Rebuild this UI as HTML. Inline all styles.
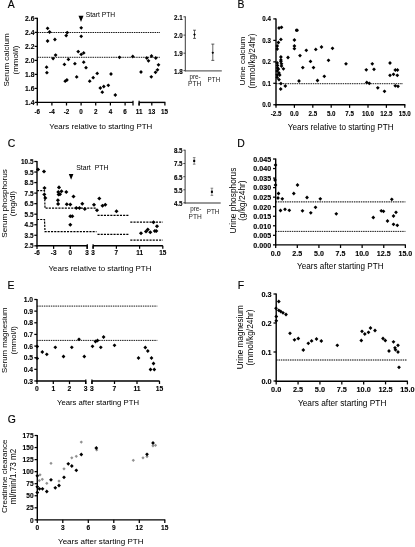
<!DOCTYPE html>
<html><head><meta charset="utf-8"><title>Figure</title>
<style>html,body{margin:0;padding:0;background:#fff;}body{width:415px;height:547px;overflow:hidden;font-family:"Liberation Sans",sans-serif;}svg{display:block;}</style>
</head><body>
<svg width="415" height="547" viewBox="0 0 415 547">
<rect width="415" height="547" fill="#fff"/>
<defs><filter id="sf" x="0" y="0" width="415" height="547" filterUnits="userSpaceOnUse"><feGaussianBlur stdDeviation="0.35"/></filter></defs>
<g filter="url(#sf)">
<text x="7.70" y="8.20" font-family="Liberation Sans, sans-serif" font-size="10.4" text-anchor="start" fill="#000" stroke="#000" stroke-width="0.15">A</text>
<text x="237.50" y="8.20" font-family="Liberation Sans, sans-serif" font-size="10.4" text-anchor="start" fill="#000" stroke="#000" stroke-width="0.15">B</text>
<text x="7.80" y="146.50" font-family="Liberation Sans, sans-serif" font-size="10.4" text-anchor="start" fill="#000" stroke="#000" stroke-width="0.15">C</text>
<text x="237.30" y="146.50" font-family="Liberation Sans, sans-serif" font-size="10.4" text-anchor="start" fill="#000" stroke="#000" stroke-width="0.15">D</text>
<text x="7.40" y="289.20" font-family="Liberation Sans, sans-serif" font-size="10.4" text-anchor="start" fill="#000" stroke="#000" stroke-width="0.15">E</text>
<text x="237.70" y="289.00" font-family="Liberation Sans, sans-serif" font-size="10.4" text-anchor="start" fill="#000" stroke="#000" stroke-width="0.15">F</text>
<text x="7.80" y="422.60" font-family="Liberation Sans, sans-serif" font-size="10.4" text-anchor="start" fill="#000" stroke="#000" stroke-width="0.15">G</text>
<line x1="37.30" y1="17.80" x2="37.30" y2="103.10" stroke="#000" stroke-width="1.4" stroke-linecap="butt"/>
<line x1="36.60" y1="102.40" x2="133.00" y2="102.40" stroke="#000" stroke-width="1.4" stroke-linecap="butt"/>
<line x1="139.00" y1="102.40" x2="165.40" y2="102.40" stroke="#000" stroke-width="1.4" stroke-linecap="butt"/>
<line x1="34.60" y1="18.30" x2="37.30" y2="18.30" stroke="#000" stroke-width="1.25" stroke-linecap="butt"/>
<text x="34.40" y="21.01" font-family="Liberation Sans, sans-serif" font-size="7.236" text-anchor="end" font-weight="bold" stroke="#000" stroke-width="0.12" fill="#000" transform="translate(34.40 21.01) scale(0.9259 1) translate(-34.40 -21.01)">2.6</text>
<line x1="34.60" y1="32.40" x2="37.30" y2="32.40" stroke="#000" stroke-width="1.25" stroke-linecap="butt"/>
<text x="34.40" y="35.11" font-family="Liberation Sans, sans-serif" font-size="7.236" text-anchor="end" font-weight="bold" stroke="#000" stroke-width="0.12" fill="#000" transform="translate(34.40 35.11) scale(0.9259 1) translate(-34.40 -35.11)">2.4</text>
<line x1="34.60" y1="46.40" x2="37.30" y2="46.40" stroke="#000" stroke-width="1.25" stroke-linecap="butt"/>
<text x="34.40" y="49.11" font-family="Liberation Sans, sans-serif" font-size="7.236" text-anchor="end" font-weight="bold" stroke="#000" stroke-width="0.12" fill="#000" transform="translate(34.40 49.11) scale(0.9259 1) translate(-34.40 -49.11)">2.2</text>
<line x1="34.60" y1="60.40" x2="37.30" y2="60.40" stroke="#000" stroke-width="1.25" stroke-linecap="butt"/>
<text x="34.40" y="63.11" font-family="Liberation Sans, sans-serif" font-size="7.236" text-anchor="end" font-weight="bold" stroke="#000" stroke-width="0.12" fill="#000" transform="translate(34.40 63.11) scale(0.9259 1) translate(-34.40 -63.11)">2.0</text>
<line x1="34.60" y1="74.40" x2="37.30" y2="74.40" stroke="#000" stroke-width="1.25" stroke-linecap="butt"/>
<text x="34.40" y="77.11" font-family="Liberation Sans, sans-serif" font-size="7.236" text-anchor="end" font-weight="bold" stroke="#000" stroke-width="0.12" fill="#000" transform="translate(34.40 77.11) scale(0.9259 1) translate(-34.40 -77.11)">1.8</text>
<line x1="34.60" y1="88.40" x2="37.30" y2="88.40" stroke="#000" stroke-width="1.25" stroke-linecap="butt"/>
<text x="34.40" y="91.11" font-family="Liberation Sans, sans-serif" font-size="7.236" text-anchor="end" font-weight="bold" stroke="#000" stroke-width="0.12" fill="#000" transform="translate(34.40 91.11) scale(0.9259 1) translate(-34.40 -91.11)">1.6</text>
<line x1="34.60" y1="102.40" x2="37.30" y2="102.40" stroke="#000" stroke-width="1.25" stroke-linecap="butt"/>
<text x="34.40" y="105.11" font-family="Liberation Sans, sans-serif" font-size="7.236" text-anchor="end" font-weight="bold" stroke="#000" stroke-width="0.12" fill="#000" transform="translate(34.40 105.11) scale(0.9259 1) translate(-34.40 -105.11)">1.4</text>
<line x1="37.30" y1="102.40" x2="37.30" y2="105.50" stroke="#000" stroke-width="1.25" stroke-linecap="butt"/>
<text x="37.30" y="114.47" font-family="Liberation Sans, sans-serif" font-size="6.804" text-anchor="middle" font-weight="bold" stroke="#000" stroke-width="0.12" fill="#000" transform="translate(37.30 114.47) scale(0.9259 1) translate(-37.30 -114.47)">-6</text>
<line x1="51.90" y1="102.40" x2="51.90" y2="105.50" stroke="#000" stroke-width="1.25" stroke-linecap="butt"/>
<text x="51.90" y="114.47" font-family="Liberation Sans, sans-serif" font-size="6.804" text-anchor="middle" font-weight="bold" stroke="#000" stroke-width="0.12" fill="#000" transform="translate(51.90 114.47) scale(0.9259 1) translate(-51.90 -114.47)">-4</text>
<line x1="66.50" y1="102.40" x2="66.50" y2="105.50" stroke="#000" stroke-width="1.25" stroke-linecap="butt"/>
<text x="66.50" y="114.47" font-family="Liberation Sans, sans-serif" font-size="6.804" text-anchor="middle" font-weight="bold" stroke="#000" stroke-width="0.12" fill="#000" transform="translate(66.50 114.47) scale(0.9259 1) translate(-66.50 -114.47)">-2</text>
<line x1="81.10" y1="102.40" x2="81.10" y2="105.50" stroke="#000" stroke-width="1.25" stroke-linecap="butt"/>
<text x="81.10" y="114.47" font-family="Liberation Sans, sans-serif" font-size="6.804" text-anchor="middle" font-weight="bold" stroke="#000" stroke-width="0.12" fill="#000" transform="translate(81.10 114.47) scale(0.9259 1) translate(-81.10 -114.47)">0</text>
<line x1="95.70" y1="102.40" x2="95.70" y2="105.50" stroke="#000" stroke-width="1.25" stroke-linecap="butt"/>
<text x="95.70" y="114.47" font-family="Liberation Sans, sans-serif" font-size="6.804" text-anchor="middle" font-weight="bold" stroke="#000" stroke-width="0.12" fill="#000" transform="translate(95.70 114.47) scale(0.9259 1) translate(-95.70 -114.47)">2</text>
<line x1="110.40" y1="102.40" x2="110.40" y2="105.50" stroke="#000" stroke-width="1.25" stroke-linecap="butt"/>
<text x="110.40" y="114.47" font-family="Liberation Sans, sans-serif" font-size="6.804" text-anchor="middle" font-weight="bold" stroke="#000" stroke-width="0.12" fill="#000" transform="translate(110.40 114.47) scale(0.9259 1) translate(-110.40 -114.47)">4</text>
<line x1="125.10" y1="102.40" x2="125.10" y2="105.50" stroke="#000" stroke-width="1.25" stroke-linecap="butt"/>
<text x="125.10" y="114.47" font-family="Liberation Sans, sans-serif" font-size="6.804" text-anchor="middle" font-weight="bold" stroke="#000" stroke-width="0.12" fill="#000" transform="translate(125.10 114.47) scale(0.9259 1) translate(-125.10 -114.47)">6</text>
<line x1="133.00" y1="100.80" x2="133.00" y2="105.40" stroke="#000" stroke-width="1.25" stroke-linecap="butt"/>
<line x1="139.10" y1="100.80" x2="139.10" y2="105.40" stroke="#000" stroke-width="1.25" stroke-linecap="butt"/>
<line x1="139.10" y1="102.40" x2="139.10" y2="105.40" stroke="#000" stroke-width="1.25" stroke-linecap="butt"/>
<text x="139.20" y="114.47" font-family="Liberation Sans, sans-serif" font-size="6.804" text-anchor="middle" font-weight="bold" stroke="#000" stroke-width="0.12" fill="#000" transform="translate(139.20 114.47) scale(0.9259 1) translate(-139.20 -114.47)">11</text>
<line x1="151.80" y1="102.40" x2="151.80" y2="105.40" stroke="#000" stroke-width="1.25" stroke-linecap="butt"/>
<text x="151.80" y="114.47" font-family="Liberation Sans, sans-serif" font-size="6.804" text-anchor="middle" font-weight="bold" stroke="#000" stroke-width="0.12" fill="#000" transform="translate(151.80 114.47) scale(0.9259 1) translate(-151.80 -114.47)">13</text>
<line x1="164.90" y1="102.40" x2="164.90" y2="105.40" stroke="#000" stroke-width="1.25" stroke-linecap="butt"/>
<text x="164.40" y="114.47" font-family="Liberation Sans, sans-serif" font-size="6.804" text-anchor="middle" font-weight="bold" stroke="#000" stroke-width="0.12" fill="#000" transform="translate(164.40 114.47) scale(0.9259 1) translate(-164.40 -114.47)">15</text>
<line x1="37.30" y1="32.50" x2="160.00" y2="32.50" stroke="#000" stroke-width="0.9" stroke-dasharray="1.5 0.8" stroke-linecap="butt"/>
<line x1="37.30" y1="57.30" x2="160.00" y2="57.30" stroke="#000" stroke-width="0.9" stroke-dasharray="1.5 0.8" stroke-linecap="butt"/>
<text x="8.70" y="60.00" font-family="Liberation Sans, sans-serif" font-size="8.05" text-anchor="middle" fill="#000" transform="rotate(-90 8.70 60.00)">Serum calcium</text>
<text x="17.50" y="60.00" font-family="Liberation Sans, sans-serif" font-size="8.05" text-anchor="middle" fill="#000" transform="rotate(-90 17.50 60.00)">(mmol/l)</text>
<text x="100.80" y="128.90" font-family="Liberation Sans, sans-serif" font-size="7.95" text-anchor="middle" fill="#000">Years relative to starting PTH</text>
<text x="85.80" y="16.90" font-family="Liberation Sans, sans-serif" font-size="6.7" text-anchor="start" fill="#000">Start PTH</text>
<path d="M78.5 15.8 L83.5 15.8 L81.0 22.0Z" fill="#000"/>
<path d="M47.60 26.40L49.50 28.30L47.60 30.20L45.70 28.30Z" fill="#000"/>
<path d="M49.60 30.10L51.50 32.00L49.60 33.90L47.70 32.00Z" fill="#000"/>
<path d="M47.60 39.10L49.50 41.00L47.60 42.90L45.70 41.00Z" fill="#000"/>
<path d="M54.90 37.60L56.80 39.50L54.90 41.40L53.00 39.50Z" fill="#000"/>
<path d="M53.10 56.70L55.00 58.60L53.10 60.50L51.20 58.60Z" fill="#000"/>
<path d="M55.60 53.20L57.50 55.10L55.60 57.00L53.70 55.10Z" fill="#000"/>
<path d="M46.60 65.30L48.50 67.20L46.60 69.10L44.70 67.20Z" fill="#000"/>
<path d="M46.90 70.80L48.80 72.70L46.90 74.60L45.00 72.70Z" fill="#000"/>
<path d="M67.20 30.70L69.10 32.60L67.20 34.50L65.30 32.60Z" fill="#000"/>
<path d="M66.20 33.70L68.10 35.60L66.20 37.50L64.30 35.60Z" fill="#000"/>
<path d="M64.40 62.50L66.30 64.40L64.40 66.30L62.50 64.40Z" fill="#000"/>
<path d="M68.40 57.50L70.30 59.40L68.40 61.30L66.50 59.40Z" fill="#000"/>
<path d="M65.20 79.30L67.10 81.20L65.20 83.10L63.30 81.20Z" fill="#000"/>
<path d="M66.90 78.10L68.80 80.00L66.90 81.90L65.00 80.00Z" fill="#000"/>
<path d="M74.90 61.80L76.80 63.70L74.90 65.60L73.00 63.70Z" fill="#000"/>
<path d="M76.70 75.00L78.60 76.90L76.70 78.80L74.80 76.90Z" fill="#000"/>
<path d="M78.20 49.70L80.10 51.60L78.20 53.50L76.30 51.60Z" fill="#000"/>
<path d="M81.20 25.90L83.10 27.80L81.20 29.70L79.30 27.80Z" fill="#000"/>
<path d="M81.20 34.40L83.10 36.30L81.20 38.20L79.30 36.30Z" fill="#000"/>
<path d="M81.20 52.50L83.10 54.40L81.20 56.30L79.30 54.40Z" fill="#000"/>
<path d="M83.70 51.00L85.60 52.90L83.70 54.80L81.80 52.90Z" fill="#000"/>
<path d="M83.70 60.30L85.60 62.20L83.70 64.10L81.80 62.20Z" fill="#000"/>
<path d="M86.00 65.80L87.90 67.70L86.00 69.60L84.10 67.70Z" fill="#000"/>
<path d="M89.70 79.30L91.60 81.20L89.70 83.10L87.80 81.20Z" fill="#000"/>
<path d="M93.20 75.80L95.10 77.70L93.20 79.60L91.30 77.70Z" fill="#000"/>
<path d="M97.20 71.50L99.10 73.40L97.20 75.30L95.30 73.40Z" fill="#000"/>
<path d="M100.30 86.10L102.20 88.00L100.30 89.90L98.40 88.00Z" fill="#000"/>
<path d="M102.30 90.30L104.20 92.20L102.30 94.10L100.40 92.20Z" fill="#000"/>
<path d="M103.80 84.60L105.70 86.50L103.80 88.40L101.90 86.50Z" fill="#000"/>
<path d="M108.30 83.40L110.20 85.30L108.30 87.20L106.40 85.30Z" fill="#000"/>
<path d="M111.00 72.10L112.90 74.00L111.00 75.90L109.10 74.00Z" fill="#000"/>
<path d="M115.30 93.10L117.20 95.00L115.30 96.90L113.40 95.00Z" fill="#000"/>
<path d="M119.50 55.40L121.40 57.30L119.50 59.20L117.60 57.30Z" fill="#000"/>
<path d="M132.80 54.60L134.70 56.50L132.80 58.40L130.90 56.50Z" fill="#000"/>
<path d="M141.00 70.10L142.90 72.00L141.00 73.90L139.10 72.00Z" fill="#000"/>
<path d="M146.80 56.10L148.70 58.00L146.80 59.90L144.90 58.00Z" fill="#000"/>
<path d="M148.50 58.90L150.40 60.80L148.50 62.70L146.60 60.80Z" fill="#000"/>
<path d="M151.50 54.10L153.40 56.00L151.50 57.90L149.60 56.00Z" fill="#000"/>
<path d="M155.80 56.10L157.70 58.00L155.80 59.90L153.90 58.00Z" fill="#000"/>
<path d="M151.30 74.90L153.20 76.80L151.30 78.70L149.40 76.80Z" fill="#000"/>
<path d="M155.50 70.40L157.40 72.30L155.50 74.20L153.60 72.30Z" fill="#000"/>
<path d="M157.50 67.90L159.40 69.80L157.50 71.70L155.60 69.80Z" fill="#000"/>
<path d="M158.50 62.90L160.40 64.80L158.50 66.70L156.60 64.80Z" fill="#000"/>
<line x1="185.30" y1="16.40" x2="185.30" y2="71.40" stroke="#222" stroke-width="0.9" stroke-linecap="butt"/>
<line x1="184.90" y1="70.80" x2="221.80" y2="70.80" stroke="#666" stroke-width="1.2" stroke-linecap="butt"/>
<line x1="183.50" y1="16.80" x2="185.30" y2="16.80" stroke="#222" stroke-width="0.8" stroke-linecap="butt"/>
<text x="182.70" y="19.73" font-family="Liberation Sans, sans-serif" font-size="6.696" text-anchor="end" font-weight="bold" stroke="#000" stroke-width="0.12" fill="#000" transform="translate(182.70 19.73) scale(0.9259 1) translate(-182.70 -19.73)">2.1</text>
<line x1="183.50" y1="35.10" x2="185.30" y2="35.10" stroke="#222" stroke-width="0.8" stroke-linecap="butt"/>
<text x="182.70" y="38.03" font-family="Liberation Sans, sans-serif" font-size="6.696" text-anchor="end" font-weight="bold" stroke="#000" stroke-width="0.12" fill="#000" transform="translate(182.70 38.03) scale(0.9259 1) translate(-182.70 -38.03)">2.0</text>
<line x1="183.50" y1="53.20" x2="185.30" y2="53.20" stroke="#222" stroke-width="0.8" stroke-linecap="butt"/>
<text x="182.70" y="56.13" font-family="Liberation Sans, sans-serif" font-size="6.696" text-anchor="end" font-weight="bold" stroke="#000" stroke-width="0.12" fill="#000" transform="translate(182.70 56.13) scale(0.9259 1) translate(-182.70 -56.13)">1.9</text>
<line x1="183.50" y1="70.60" x2="185.30" y2="70.60" stroke="#222" stroke-width="0.8" stroke-linecap="butt"/>
<text x="182.70" y="73.53" font-family="Liberation Sans, sans-serif" font-size="6.696" text-anchor="end" font-weight="bold" stroke="#000" stroke-width="0.12" fill="#000" transform="translate(182.70 73.53) scale(0.9259 1) translate(-182.70 -73.53)">1.8</text>
<line x1="194.50" y1="30.20" x2="194.50" y2="38.40" stroke="#222" stroke-width="0.7" stroke-linecap="butt"/>
<line x1="193.00" y1="30.20" x2="196.00" y2="30.20" stroke="#222" stroke-width="0.7" stroke-linecap="butt"/>
<line x1="193.00" y1="38.40" x2="196.00" y2="38.40" stroke="#222" stroke-width="0.7" stroke-linecap="butt"/>
<path d="M194.50 33.30L195.80 34.60L194.50 35.90L193.20 34.60Z" fill="#000"/>
<line x1="212.80" y1="44.10" x2="212.80" y2="60.40" stroke="#222" stroke-width="0.7" stroke-linecap="butt"/>
<line x1="211.30" y1="44.10" x2="214.30" y2="44.10" stroke="#222" stroke-width="0.7" stroke-linecap="butt"/>
<line x1="211.30" y1="60.40" x2="214.30" y2="60.40" stroke="#222" stroke-width="0.7" stroke-linecap="butt"/>
<path d="M212.80 51.40L214.10 52.70L212.80 54.00L211.50 52.70Z" fill="#000"/>
<text x="195.00" y="78.60" font-family="Liberation Sans, sans-serif" font-size="6.3" text-anchor="middle" fill="#222">pre-</text>
<text x="194.70" y="85.90" font-family="Liberation Sans, sans-serif" font-size="6.6" text-anchor="middle" fill="#222">PTH</text>
<text x="213.90" y="82.10" font-family="Liberation Sans, sans-serif" font-size="6.3" text-anchor="middle" fill="#222">PTH</text>
<line x1="276.00" y1="18.40" x2="276.00" y2="105.45" stroke="#000" stroke-width="1.4" stroke-linecap="butt"/>
<line x1="275.30" y1="104.75" x2="405.40" y2="104.75" stroke="#000" stroke-width="1.4" stroke-linecap="butt"/>
<line x1="273.30" y1="18.90" x2="276.00" y2="18.90" stroke="#000" stroke-width="1.25" stroke-linecap="butt"/>
<text x="270.90" y="21.43" font-family="Liberation Sans, sans-serif" font-size="6.696" text-anchor="end" font-weight="bold" stroke="#000" stroke-width="0.12" fill="#000" transform="translate(270.90 21.43) scale(0.9259 1) translate(-270.90 -21.43)">0.4</text>
<line x1="273.30" y1="40.40" x2="276.00" y2="40.40" stroke="#000" stroke-width="1.25" stroke-linecap="butt"/>
<text x="270.90" y="42.93" font-family="Liberation Sans, sans-serif" font-size="6.696" text-anchor="end" font-weight="bold" stroke="#000" stroke-width="0.12" fill="#000" transform="translate(270.90 42.93) scale(0.9259 1) translate(-270.90 -42.93)">0.3</text>
<line x1="273.30" y1="61.85" x2="276.00" y2="61.85" stroke="#000" stroke-width="1.25" stroke-linecap="butt"/>
<text x="270.90" y="64.38" font-family="Liberation Sans, sans-serif" font-size="6.696" text-anchor="end" font-weight="bold" stroke="#000" stroke-width="0.12" fill="#000" transform="translate(270.90 64.38) scale(0.9259 1) translate(-270.90 -64.38)">0.2</text>
<line x1="273.30" y1="83.30" x2="276.00" y2="83.30" stroke="#000" stroke-width="1.25" stroke-linecap="butt"/>
<text x="270.90" y="85.83" font-family="Liberation Sans, sans-serif" font-size="6.696" text-anchor="end" font-weight="bold" stroke="#000" stroke-width="0.12" fill="#000" transform="translate(270.90 85.83) scale(0.9259 1) translate(-270.90 -85.83)">0.1</text>
<line x1="273.30" y1="104.75" x2="276.00" y2="104.75" stroke="#000" stroke-width="1.25" stroke-linecap="butt"/>
<text x="270.90" y="107.28" font-family="Liberation Sans, sans-serif" font-size="6.696" text-anchor="end" font-weight="bold" stroke="#000" stroke-width="0.12" fill="#000" transform="translate(270.90 107.28) scale(0.9259 1) translate(-270.90 -107.28)">0.0</text>
<line x1="276.00" y1="104.75" x2="276.00" y2="107.85" stroke="#000" stroke-width="1.25" stroke-linecap="butt"/>
<text x="276.00" y="116.43" font-family="Liberation Sans, sans-serif" font-size="6.696" text-anchor="middle" font-weight="bold" stroke="#000" stroke-width="0.12" fill="#000" transform="translate(276.00 116.43) scale(0.9259 1) translate(-276.00 -116.43)">-2.5</text>
<line x1="294.40" y1="104.75" x2="294.40" y2="107.85" stroke="#000" stroke-width="1.25" stroke-linecap="butt"/>
<text x="294.40" y="116.43" font-family="Liberation Sans, sans-serif" font-size="6.696" text-anchor="middle" font-weight="bold" stroke="#000" stroke-width="0.12" fill="#000" transform="translate(294.40 116.43) scale(0.9259 1) translate(-294.40 -116.43)">0.0</text>
<line x1="312.80" y1="104.75" x2="312.80" y2="107.85" stroke="#000" stroke-width="1.25" stroke-linecap="butt"/>
<text x="312.80" y="116.43" font-family="Liberation Sans, sans-serif" font-size="6.696" text-anchor="middle" font-weight="bold" stroke="#000" stroke-width="0.12" fill="#000" transform="translate(312.80 116.43) scale(0.9259 1) translate(-312.80 -116.43)">2.5</text>
<line x1="331.20" y1="104.75" x2="331.20" y2="107.85" stroke="#000" stroke-width="1.25" stroke-linecap="butt"/>
<text x="331.20" y="116.43" font-family="Liberation Sans, sans-serif" font-size="6.696" text-anchor="middle" font-weight="bold" stroke="#000" stroke-width="0.12" fill="#000" transform="translate(331.20 116.43) scale(0.9259 1) translate(-331.20 -116.43)">5.0</text>
<line x1="349.60" y1="104.75" x2="349.60" y2="107.85" stroke="#000" stroke-width="1.25" stroke-linecap="butt"/>
<text x="349.60" y="116.43" font-family="Liberation Sans, sans-serif" font-size="6.696" text-anchor="middle" font-weight="bold" stroke="#000" stroke-width="0.12" fill="#000" transform="translate(349.60 116.43) scale(0.9259 1) translate(-349.60 -116.43)">7.5</text>
<line x1="368.00" y1="104.75" x2="368.00" y2="107.85" stroke="#000" stroke-width="1.25" stroke-linecap="butt"/>
<text x="368.00" y="116.43" font-family="Liberation Sans, sans-serif" font-size="6.696" text-anchor="middle" font-weight="bold" stroke="#000" stroke-width="0.12" fill="#000" transform="translate(368.00 116.43) scale(0.9259 1) translate(-368.00 -116.43)">10.0</text>
<line x1="386.40" y1="104.75" x2="386.40" y2="107.85" stroke="#000" stroke-width="1.25" stroke-linecap="butt"/>
<text x="386.40" y="116.43" font-family="Liberation Sans, sans-serif" font-size="6.696" text-anchor="middle" font-weight="bold" stroke="#000" stroke-width="0.12" fill="#000" transform="translate(386.40 116.43) scale(0.9259 1) translate(-386.40 -116.43)">12.5</text>
<line x1="404.80" y1="104.75" x2="404.80" y2="107.85" stroke="#000" stroke-width="1.25" stroke-linecap="butt"/>
<text x="404.80" y="116.43" font-family="Liberation Sans, sans-serif" font-size="6.696" text-anchor="middle" font-weight="bold" stroke="#000" stroke-width="0.12" fill="#000" transform="translate(404.80 116.43) scale(0.9259 1) translate(-404.80 -116.43)">15.0</text>
<line x1="276.00" y1="83.70" x2="403.00" y2="83.70" stroke="#000" stroke-width="0.9" stroke-dasharray="1.5 0.8" stroke-linecap="butt"/>
<text x="245.20" y="61.00" font-family="Liberation Sans, sans-serif" font-size="8.05" text-anchor="middle" fill="#000" transform="rotate(-90 245.20 61.00)">Urine calcium</text>
<text x="254.80" y="61.00" font-family="Liberation Sans, sans-serif" font-size="8.17" text-anchor="middle" fill="#000" transform="rotate(-90 254.80 61.00)">(mmol/kg/24hr)</text>
<text x="340.65" y="129.50" font-family="Liberation Sans, sans-serif" font-size="8.17" text-anchor="middle" fill="#000">Years relative to starting PTH</text>
<path d="M279.00 26.10L280.90 28.00L279.00 29.90L277.10 28.00Z" fill="#000"/>
<path d="M281.50 25.40L283.40 27.30L281.50 29.20L279.60 27.30Z" fill="#000"/>
<path d="M280.90 37.50L282.80 39.40L280.90 41.30L279.00 39.40Z" fill="#000"/>
<path d="M278.40 40.60L280.30 42.50L278.40 44.40L276.50 42.50Z" fill="#000"/>
<path d="M277.20 44.10L279.10 46.00L277.20 47.90L275.30 46.00Z" fill="#000"/>
<path d="M277.20 47.10L279.10 49.00L277.20 50.90L275.30 49.00Z" fill="#000"/>
<path d="M280.90 55.10L282.80 57.00L280.90 58.90L279.00 57.00Z" fill="#000"/>
<path d="M280.90 58.10L282.80 60.00L280.90 61.90L279.00 60.00Z" fill="#000"/>
<path d="M280.90 59.70L282.80 61.60L280.90 63.50L279.00 61.60Z" fill="#000"/>
<path d="M281.50 61.90L283.40 63.80L281.50 65.70L279.60 63.80Z" fill="#000"/>
<path d="M281.50 64.10L283.40 66.00L281.50 67.90L279.60 66.00Z" fill="#000"/>
<path d="M283.40 66.90L285.30 68.80L283.40 70.70L281.50 68.80Z" fill="#000"/>
<path d="M277.20 61.00L279.10 62.90L277.20 64.80L275.30 62.90Z" fill="#000"/>
<path d="M277.50 63.50L279.40 65.40L277.50 67.30L275.60 65.40Z" fill="#000"/>
<path d="M277.50 66.00L279.40 67.90L277.50 69.80L275.60 67.90Z" fill="#000"/>
<path d="M278.40 67.20L280.30 69.10L278.40 71.00L276.50 69.10Z" fill="#000"/>
<path d="M277.20 69.10L279.10 71.00L277.20 72.90L275.30 71.00Z" fill="#000"/>
<path d="M279.00 71.00L280.90 72.90L279.00 74.80L277.10 72.90Z" fill="#000"/>
<path d="M277.20 72.90L279.10 74.80L277.20 76.70L275.30 74.80Z" fill="#000"/>
<path d="M279.70 73.10L281.60 75.00L279.70 76.90L277.80 75.00Z" fill="#000"/>
<path d="M277.20 75.40L279.10 77.30L277.20 79.20L275.30 77.30Z" fill="#000"/>
<path d="M279.00 77.70L280.90 79.60L279.00 81.50L277.10 79.60Z" fill="#000"/>
<path d="M280.90 81.70L282.80 83.60L280.90 85.50L279.00 83.60Z" fill="#000"/>
<path d="M280.70 87.10L282.60 89.00L280.70 90.90L278.80 89.00Z" fill="#000"/>
<path d="M285.30 84.10L287.20 86.00L285.30 87.90L283.40 86.00Z" fill="#000"/>
<path d="M288.00 55.60L289.90 57.50L288.00 59.40L286.10 57.50Z" fill="#000"/>
<path d="M294.40 38.10L296.30 40.00L294.40 41.90L292.50 40.00Z" fill="#000"/>
<path d="M294.40 44.10L296.30 46.00L294.40 47.90L292.50 46.00Z" fill="#000"/>
<path d="M294.40 46.80L296.30 48.70L294.40 50.60L292.50 48.70Z" fill="#000"/>
<path d="M300.00 53.70L301.90 55.60L300.00 57.50L298.10 55.60Z" fill="#000"/>
<path d="M306.30 48.40L308.20 50.30L306.30 52.20L304.40 50.30Z" fill="#000"/>
<path d="M302.80 65.70L304.70 67.60L302.80 69.50L300.90 67.60Z" fill="#000"/>
<path d="M299.00 79.10L300.90 81.00L299.00 82.90L297.10 81.00Z" fill="#000"/>
<path d="M310.50 59.50L312.40 61.40L310.50 63.30L308.60 61.40Z" fill="#000"/>
<path d="M313.50 65.70L315.40 67.60L313.50 69.50L311.60 67.60Z" fill="#000"/>
<path d="M315.80 47.50L317.70 49.40L315.80 51.30L313.90 49.40Z" fill="#000"/>
<path d="M317.50 78.60L319.40 80.50L317.50 82.40L315.60 80.50Z" fill="#000"/>
<path d="M321.50 45.10L323.40 47.00L321.50 48.90L319.60 47.00Z" fill="#000"/>
<path d="M324.30 74.40L326.20 76.30L324.30 78.20L322.40 76.30Z" fill="#000"/>
<path d="M328.50 58.40L330.40 60.30L328.50 62.20L326.60 60.30Z" fill="#000"/>
<path d="M332.50 46.40L334.40 48.30L332.50 50.20L330.60 48.30Z" fill="#000"/>
<path d="M346.00 61.90L347.90 63.80L346.00 65.70L344.10 63.80Z" fill="#000"/>
<path d="M366.30 67.90L368.20 69.80L366.30 71.70L364.40 69.80Z" fill="#000"/>
<path d="M366.80 80.60L368.70 82.50L366.80 84.40L364.90 82.50Z" fill="#000"/>
<path d="M369.30 81.40L371.20 83.30L369.30 85.20L367.40 83.30Z" fill="#000"/>
<path d="M372.30 61.90L374.20 63.80L372.30 65.70L370.40 63.80Z" fill="#000"/>
<path d="M374.00 67.40L375.90 69.30L374.00 71.20L372.10 69.30Z" fill="#000"/>
<path d="M377.80 85.90L379.70 87.80L377.80 89.70L375.90 87.80Z" fill="#000"/>
<path d="M384.50 89.40L386.40 91.30L384.50 93.20L382.60 91.30Z" fill="#000"/>
<path d="M390.00 61.10L391.90 63.00L390.00 64.90L388.10 63.00Z" fill="#000"/>
<path d="M390.00 73.40L391.90 75.30L390.00 77.20L388.10 75.30Z" fill="#000"/>
<path d="M393.50 72.40L395.40 74.30L393.50 76.20L391.60 74.30Z" fill="#000"/>
<path d="M395.30 68.10L397.20 70.00L395.30 71.90L393.40 70.00Z" fill="#000"/>
<path d="M397.50 68.10L399.40 70.00L397.50 71.90L395.60 70.00Z" fill="#000"/>
<path d="M397.30 73.40L399.20 75.30L397.30 77.20L395.40 75.30Z" fill="#000"/>
<path d="M395.30 83.90L397.20 85.80L395.30 87.70L393.40 85.80Z" fill="#000"/>
<path d="M398.00 84.40L399.90 86.30L398.00 88.20L396.10 86.30Z" fill="#000"/>
<circle cx="296.80" cy="30.30" r="1.8" fill="#000"/>
<line x1="37.00" y1="161.00" x2="37.00" y2="246.50" stroke="#000" stroke-width="1.4" stroke-linecap="butt"/>
<line x1="36.30" y1="245.80" x2="87.30" y2="245.80" stroke="#000" stroke-width="1.4" stroke-linecap="butt"/>
<line x1="93.00" y1="245.80" x2="162.90" y2="245.80" stroke="#000" stroke-width="1.4" stroke-linecap="butt"/>
<line x1="34.30" y1="161.50" x2="37.00" y2="161.50" stroke="#000" stroke-width="1.25" stroke-linecap="butt"/>
<text x="33.50" y="164.10" font-family="Liberation Sans, sans-serif" font-size="6.912" text-anchor="end" font-weight="bold" stroke="#000" stroke-width="0.12" fill="#000" transform="translate(33.50 164.10) scale(0.9259 1) translate(-33.50 -164.10)">10.5</text>
<line x1="34.30" y1="172.04" x2="37.00" y2="172.04" stroke="#000" stroke-width="1.25" stroke-linecap="butt"/>
<text x="33.50" y="174.64" font-family="Liberation Sans, sans-serif" font-size="6.912" text-anchor="end" font-weight="bold" stroke="#000" stroke-width="0.12" fill="#000" transform="translate(33.50 174.64) scale(0.9259 1) translate(-33.50 -174.64)">9.5</text>
<line x1="34.30" y1="182.58" x2="37.00" y2="182.58" stroke="#000" stroke-width="1.25" stroke-linecap="butt"/>
<text x="33.50" y="185.18" font-family="Liberation Sans, sans-serif" font-size="6.912" text-anchor="end" font-weight="bold" stroke="#000" stroke-width="0.12" fill="#000" transform="translate(33.50 185.18) scale(0.9259 1) translate(-33.50 -185.18)">8.5</text>
<line x1="34.30" y1="193.12" x2="37.00" y2="193.12" stroke="#000" stroke-width="1.25" stroke-linecap="butt"/>
<text x="33.50" y="195.72" font-family="Liberation Sans, sans-serif" font-size="6.912" text-anchor="end" font-weight="bold" stroke="#000" stroke-width="0.12" fill="#000" transform="translate(33.50 195.72) scale(0.9259 1) translate(-33.50 -195.72)">7.5</text>
<line x1="34.30" y1="203.66" x2="37.00" y2="203.66" stroke="#000" stroke-width="1.25" stroke-linecap="butt"/>
<text x="33.50" y="206.26" font-family="Liberation Sans, sans-serif" font-size="6.912" text-anchor="end" font-weight="bold" stroke="#000" stroke-width="0.12" fill="#000" transform="translate(33.50 206.26) scale(0.9259 1) translate(-33.50 -206.26)">6.5</text>
<line x1="34.30" y1="214.20" x2="37.00" y2="214.20" stroke="#000" stroke-width="1.25" stroke-linecap="butt"/>
<text x="33.50" y="216.80" font-family="Liberation Sans, sans-serif" font-size="6.912" text-anchor="end" font-weight="bold" stroke="#000" stroke-width="0.12" fill="#000" transform="translate(33.50 216.80) scale(0.9259 1) translate(-33.50 -216.80)">5.5</text>
<line x1="34.30" y1="224.74" x2="37.00" y2="224.74" stroke="#000" stroke-width="1.25" stroke-linecap="butt"/>
<text x="33.50" y="227.34" font-family="Liberation Sans, sans-serif" font-size="6.912" text-anchor="end" font-weight="bold" stroke="#000" stroke-width="0.12" fill="#000" transform="translate(33.50 227.34) scale(0.9259 1) translate(-33.50 -227.34)">4.5</text>
<line x1="34.30" y1="235.28" x2="37.00" y2="235.28" stroke="#000" stroke-width="1.25" stroke-linecap="butt"/>
<text x="33.50" y="237.88" font-family="Liberation Sans, sans-serif" font-size="6.912" text-anchor="end" font-weight="bold" stroke="#000" stroke-width="0.12" fill="#000" transform="translate(33.50 237.88) scale(0.9259 1) translate(-33.50 -237.88)">3.5</text>
<line x1="34.30" y1="245.82" x2="37.00" y2="245.82" stroke="#000" stroke-width="1.25" stroke-linecap="butt"/>
<text x="33.50" y="248.42" font-family="Liberation Sans, sans-serif" font-size="6.912" text-anchor="end" font-weight="bold" stroke="#000" stroke-width="0.12" fill="#000" transform="translate(33.50 248.42) scale(0.9259 1) translate(-33.50 -248.42)">2.5</text>
<line x1="37.00" y1="245.80" x2="37.00" y2="248.90" stroke="#000" stroke-width="1.25" stroke-linecap="butt"/>
<text x="37.00" y="254.90" font-family="Liberation Sans, sans-serif" font-size="6.912" text-anchor="middle" font-weight="bold" stroke="#000" stroke-width="0.12" fill="#000" transform="translate(37.00 254.90) scale(0.9259 1) translate(-37.00 -254.90)">-6</text>
<line x1="53.60" y1="245.80" x2="53.60" y2="248.90" stroke="#000" stroke-width="1.25" stroke-linecap="butt"/>
<text x="53.60" y="254.90" font-family="Liberation Sans, sans-serif" font-size="6.912" text-anchor="middle" font-weight="bold" stroke="#000" stroke-width="0.12" fill="#000" transform="translate(53.60 254.90) scale(0.9259 1) translate(-53.60 -254.90)">-3</text>
<line x1="70.30" y1="245.80" x2="70.30" y2="248.90" stroke="#000" stroke-width="1.25" stroke-linecap="butt"/>
<text x="70.30" y="254.90" font-family="Liberation Sans, sans-serif" font-size="6.912" text-anchor="middle" font-weight="bold" stroke="#000" stroke-width="0.12" fill="#000" transform="translate(70.30 254.90) scale(0.9259 1) translate(-70.30 -254.90)">0</text>
<line x1="87.10" y1="245.80" x2="87.10" y2="248.90" stroke="#000" stroke-width="1.25" stroke-linecap="butt"/>
<text x="87.10" y="254.90" font-family="Liberation Sans, sans-serif" font-size="6.912" text-anchor="middle" font-weight="bold" stroke="#000" stroke-width="0.12" fill="#000" transform="translate(87.10 254.90) scale(0.9259 1) translate(-87.10 -254.90)">3</text>
<line x1="87.30" y1="244.20" x2="87.30" y2="248.80" stroke="#000" stroke-width="1.25" stroke-linecap="butt"/>
<line x1="93.10" y1="244.20" x2="93.10" y2="248.80" stroke="#000" stroke-width="1.25" stroke-linecap="butt"/>
<line x1="93.10" y1="245.80" x2="93.10" y2="248.80" stroke="#000" stroke-width="1.25" stroke-linecap="butt"/>
<text x="93.10" y="254.90" font-family="Liberation Sans, sans-serif" font-size="6.912" text-anchor="middle" font-weight="bold" stroke="#000" stroke-width="0.12" fill="#000" transform="translate(93.10 254.90) scale(0.9259 1) translate(-93.10 -254.90)">3</text>
<line x1="116.40" y1="245.80" x2="116.40" y2="248.80" stroke="#000" stroke-width="1.25" stroke-linecap="butt"/>
<text x="116.40" y="254.90" font-family="Liberation Sans, sans-serif" font-size="6.912" text-anchor="middle" font-weight="bold" stroke="#000" stroke-width="0.12" fill="#000" transform="translate(116.40 254.90) scale(0.9259 1) translate(-116.40 -254.90)">7</text>
<line x1="139.60" y1="245.80" x2="139.60" y2="248.80" stroke="#000" stroke-width="1.25" stroke-linecap="butt"/>
<text x="139.60" y="254.90" font-family="Liberation Sans, sans-serif" font-size="6.912" text-anchor="middle" font-weight="bold" stroke="#000" stroke-width="0.12" fill="#000" transform="translate(139.60 254.90) scale(0.9259 1) translate(-139.60 -254.90)">11</text>
<line x1="162.80" y1="245.80" x2="162.80" y2="248.80" stroke="#000" stroke-width="1.25" stroke-linecap="butt"/>
<text x="162.80" y="254.90" font-family="Liberation Sans, sans-serif" font-size="6.912" text-anchor="middle" font-weight="bold" stroke="#000" stroke-width="0.12" fill="#000" transform="translate(162.80 254.90) scale(0.9259 1) translate(-162.80 -254.90)">15</text>
<polyline points="37.0,190.7 44.5,190.7 45.0,208.2 96.5,208.2" fill="none" stroke="#000" stroke-width="1.2" stroke-dasharray="2.1 1.1"/>
<polyline points="97.5,215.3 129.3,215.3" fill="none" stroke="#000" stroke-width="1.2" stroke-dasharray="2.1 1.1"/>
<polyline points="130.3,222.2 162.8,222.2" fill="none" stroke="#000" stroke-width="1.2" stroke-dasharray="2.1 1.1"/>
<polyline points="37.0,219.5 44.5,219.5 45.0,231.6 96.5,231.6" fill="none" stroke="#000" stroke-width="1.2" stroke-dasharray="2.1 1.1"/>
<polyline points="97.5,234.4 129.3,234.4" fill="none" stroke="#000" stroke-width="1.2" stroke-dasharray="2.1 1.1"/>
<polyline points="130.3,240.2 162.8,240.2" fill="none" stroke="#000" stroke-width="1.2" stroke-dasharray="2.1 1.1"/>
<text x="6.60" y="203.50" font-family="Liberation Sans, sans-serif" font-size="8.1" text-anchor="middle" fill="#000" transform="rotate(-90 6.60 203.50)">Serum phosphorus</text>
<text x="15.40" y="203.60" font-family="Liberation Sans, sans-serif" font-size="8.1" text-anchor="middle" fill="#000" transform="rotate(-90 15.40 203.60)">(mg/dl)</text>
<text x="100.00" y="270.60" font-family="Liberation Sans, sans-serif" font-size="7.94" text-anchor="middle" fill="#000">Years relative to starting PTH</text>
<text x="76.20" y="170.40" font-family="Liberation Sans, sans-serif" font-size="6.9" text-anchor="start" fill="#000">Start</text>
<text x="94.70" y="170.40" font-family="Liberation Sans, sans-serif" font-size="6.9" text-anchor="start" fill="#000">PTH</text>
<path d="M68.8 174.1 L73.4 174.1 L71.1 179.7Z" fill="#000"/>
<path d="M38.00 167.45L40.05 169.50L38.00 171.55L35.95 169.50Z" fill="#000"/>
<path d="M44.00 169.45L46.05 171.50L44.00 173.55L41.95 171.50Z" fill="#000"/>
<path d="M44.50 185.95L46.55 188.00L44.50 190.05L42.45 188.00Z" fill="#000"/>
<path d="M44.30 192.45L46.35 194.50L44.30 196.55L42.25 194.50Z" fill="#000"/>
<path d="M45.30 195.95L47.35 198.00L45.30 200.05L43.25 198.00Z" fill="#000"/>
<path d="M59.00 185.35L61.05 187.40L59.00 189.45L56.95 187.40Z" fill="#000"/>
<path d="M58.30 189.95L60.35 192.00L58.30 194.05L56.25 192.00Z" fill="#000"/>
<path d="M61.50 189.15L63.55 191.20L61.50 193.25L59.45 191.20Z" fill="#000"/>
<path d="M58.60 192.45L60.65 194.50L58.60 196.55L56.55 194.50Z" fill="#000"/>
<path d="M60.00 192.25L62.05 194.30L60.00 196.35L57.95 194.30Z" fill="#000"/>
<path d="M57.90 198.25L59.95 200.30L57.90 202.35L55.85 200.30Z" fill="#000"/>
<path d="M58.10 201.85L60.15 203.90L58.10 205.95L56.05 203.90Z" fill="#000"/>
<path d="M66.30 189.95L68.35 192.00L66.30 194.05L64.25 192.00Z" fill="#000"/>
<path d="M66.80 202.25L68.85 204.30L66.80 206.35L64.75 204.30Z" fill="#000"/>
<path d="M70.30 202.45L72.35 204.50L70.30 206.55L68.25 204.50Z" fill="#000"/>
<path d="M73.50 194.45L75.55 196.50L73.50 198.55L71.45 196.50Z" fill="#000"/>
<path d="M76.30 205.95L78.35 208.00L76.30 210.05L74.25 208.00Z" fill="#000"/>
<path d="M79.50 205.95L81.55 208.00L79.50 210.05L77.45 208.00Z" fill="#000"/>
<path d="M82.30 201.75L84.35 203.80L82.30 205.85L80.25 203.80Z" fill="#000"/>
<path d="M84.80 206.95L86.85 209.00L84.80 211.05L82.75 209.00Z" fill="#000"/>
<path d="M70.30 214.25L72.35 216.30L70.30 218.35L68.25 216.30Z" fill="#000"/>
<path d="M72.30 214.25L74.35 216.30L72.30 218.35L70.25 216.30Z" fill="#000"/>
<path d="M70.30 222.75L72.35 224.80L70.30 226.85L68.25 224.80Z" fill="#000"/>
<path d="M94.00 202.75L96.05 204.80L94.00 206.85L91.95 204.80Z" fill="#000"/>
<path d="M97.00 208.25L99.05 210.30L97.00 212.35L94.95 210.30Z" fill="#000"/>
<path d="M99.30 196.45L101.35 198.50L99.30 200.55L97.25 198.50Z" fill="#000"/>
<path d="M102.50 203.75L104.55 205.80L102.50 207.85L100.45 205.80Z" fill="#000"/>
<path d="M105.30 202.75L107.35 204.80L105.30 206.85L103.25 204.80Z" fill="#000"/>
<path d="M116.50 209.25L118.55 211.30L116.50 213.35L114.45 211.30Z" fill="#000"/>
<path d="M153.50 220.25L155.55 222.30L153.50 224.35L151.45 222.30Z" fill="#000"/>
<path d="M141.00 231.25L143.05 233.30L141.00 235.35L138.95 233.30Z" fill="#000"/>
<path d="M146.00 229.45L148.05 231.50L146.00 233.55L143.95 231.50Z" fill="#000"/>
<path d="M147.80 227.45L149.85 229.50L147.80 231.55L145.75 229.50Z" fill="#000"/>
<path d="M150.30 230.25L152.35 232.30L150.30 234.35L148.25 232.30Z" fill="#000"/>
<path d="M154.80 228.95L156.85 231.00L154.80 233.05L152.75 231.00Z" fill="#000"/>
<path d="M156.30 228.95L158.35 231.00L156.30 233.05L154.25 231.00Z" fill="#000"/>
<path d="M157.00 224.25L159.05 226.30L157.00 228.35L154.95 226.30Z" fill="#000"/>
<line x1="185.10" y1="149.80" x2="185.10" y2="203.60" stroke="#222" stroke-width="0.9" stroke-linecap="butt"/>
<line x1="184.70" y1="203.00" x2="220.70" y2="203.00" stroke="#333" stroke-width="1.2" stroke-linecap="butt"/>
<line x1="183.30" y1="150.20" x2="185.10" y2="150.20" stroke="#222" stroke-width="0.8" stroke-linecap="butt"/>
<text x="182.50" y="153.13" font-family="Liberation Sans, sans-serif" font-size="6.696" text-anchor="end" font-weight="bold" stroke="#000" stroke-width="0.12" fill="#000" transform="translate(182.50 153.13) scale(0.9259 1) translate(-182.50 -153.13)">8.5</text>
<line x1="183.30" y1="163.50" x2="185.10" y2="163.50" stroke="#222" stroke-width="0.8" stroke-linecap="butt"/>
<text x="182.50" y="166.43" font-family="Liberation Sans, sans-serif" font-size="6.696" text-anchor="end" font-weight="bold" stroke="#000" stroke-width="0.12" fill="#000" transform="translate(182.50 166.43) scale(0.9259 1) translate(-182.50 -166.43)">7.5</text>
<line x1="183.30" y1="176.70" x2="185.10" y2="176.70" stroke="#222" stroke-width="0.8" stroke-linecap="butt"/>
<text x="182.50" y="179.63" font-family="Liberation Sans, sans-serif" font-size="6.696" text-anchor="end" font-weight="bold" stroke="#000" stroke-width="0.12" fill="#000" transform="translate(182.50 179.63) scale(0.9259 1) translate(-182.50 -179.63)">6.5</text>
<line x1="183.30" y1="189.80" x2="185.10" y2="189.80" stroke="#222" stroke-width="0.8" stroke-linecap="butt"/>
<text x="182.50" y="192.73" font-family="Liberation Sans, sans-serif" font-size="6.696" text-anchor="end" font-weight="bold" stroke="#000" stroke-width="0.12" fill="#000" transform="translate(182.50 192.73) scale(0.9259 1) translate(-182.50 -192.73)">5.5</text>
<line x1="183.30" y1="202.80" x2="185.10" y2="202.80" stroke="#222" stroke-width="0.8" stroke-linecap="butt"/>
<text x="182.50" y="205.73" font-family="Liberation Sans, sans-serif" font-size="6.696" text-anchor="end" font-weight="bold" stroke="#000" stroke-width="0.12" fill="#000" transform="translate(182.50 205.73) scale(0.9259 1) translate(-182.50 -205.73)">4.5</text>
<line x1="194.20" y1="157.60" x2="194.20" y2="164.20" stroke="#555" stroke-width="0.7" stroke-linecap="butt"/>
<line x1="192.90" y1="157.60" x2="195.50" y2="157.60" stroke="#555" stroke-width="0.7" stroke-linecap="butt"/>
<line x1="192.90" y1="164.20" x2="195.50" y2="164.20" stroke="#555" stroke-width="0.7" stroke-linecap="butt"/>
<rect x="193.2" y="159.8" width="2" height="2.2" fill="#000"/>
<line x1="211.90" y1="188.20" x2="211.90" y2="195.40" stroke="#555" stroke-width="0.7" stroke-linecap="butt"/>
<line x1="210.60" y1="188.20" x2="213.20" y2="188.20" stroke="#555" stroke-width="0.7" stroke-linecap="butt"/>
<line x1="210.60" y1="195.40" x2="213.20" y2="195.40" stroke="#555" stroke-width="0.7" stroke-linecap="butt"/>
<rect x="210.9" y="190.7" width="2" height="2.2" fill="#000"/>
<text x="195.80" y="210.60" font-family="Liberation Sans, sans-serif" font-size="6.3" text-anchor="middle" fill="#222">pre-</text>
<text x="195.20" y="218.50" font-family="Liberation Sans, sans-serif" font-size="6.6" text-anchor="middle" fill="#222">PTH</text>
<text x="213.10" y="214.30" font-family="Liberation Sans, sans-serif" font-size="6.3" text-anchor="middle" fill="#222">PTH</text>
<line x1="275.70" y1="158.50" x2="275.70" y2="245.60" stroke="#000" stroke-width="1.4" stroke-linecap="butt"/>
<line x1="275.00" y1="244.90" x2="405.90" y2="244.90" stroke="#000" stroke-width="1.4" stroke-linecap="butt"/>
<line x1="273.00" y1="159.00" x2="275.70" y2="159.00" stroke="#000" stroke-width="1.25" stroke-linecap="butt"/>
<text x="271.10" y="161.86" font-family="Liberation Sans, sans-serif" font-size="7.668" text-anchor="end" font-weight="bold" stroke="#000" stroke-width="0.12" fill="#000" transform="translate(271.10 161.86) scale(0.9259 1) translate(-271.10 -161.86)">0.045</text>
<line x1="273.00" y1="168.54" x2="275.70" y2="168.54" stroke="#000" stroke-width="1.25" stroke-linecap="butt"/>
<text x="271.10" y="171.40" font-family="Liberation Sans, sans-serif" font-size="7.668" text-anchor="end" font-weight="bold" stroke="#000" stroke-width="0.12" fill="#000" transform="translate(271.10 171.40) scale(0.9259 1) translate(-271.10 -171.40)">0.040</text>
<line x1="273.00" y1="178.08" x2="275.70" y2="178.08" stroke="#000" stroke-width="1.25" stroke-linecap="butt"/>
<text x="271.10" y="180.94" font-family="Liberation Sans, sans-serif" font-size="7.668" text-anchor="end" font-weight="bold" stroke="#000" stroke-width="0.12" fill="#000" transform="translate(271.10 180.94) scale(0.9259 1) translate(-271.10 -180.94)">0.035</text>
<line x1="273.00" y1="187.62" x2="275.70" y2="187.62" stroke="#000" stroke-width="1.25" stroke-linecap="butt"/>
<text x="271.10" y="190.48" font-family="Liberation Sans, sans-serif" font-size="7.668" text-anchor="end" font-weight="bold" stroke="#000" stroke-width="0.12" fill="#000" transform="translate(271.10 190.48) scale(0.9259 1) translate(-271.10 -190.48)">0.030</text>
<line x1="273.00" y1="197.16" x2="275.70" y2="197.16" stroke="#000" stroke-width="1.25" stroke-linecap="butt"/>
<text x="271.10" y="200.02" font-family="Liberation Sans, sans-serif" font-size="7.668" text-anchor="end" font-weight="bold" stroke="#000" stroke-width="0.12" fill="#000" transform="translate(271.10 200.02) scale(0.9259 1) translate(-271.10 -200.02)">0.025</text>
<line x1="273.00" y1="206.70" x2="275.70" y2="206.70" stroke="#000" stroke-width="1.25" stroke-linecap="butt"/>
<text x="271.10" y="209.56" font-family="Liberation Sans, sans-serif" font-size="7.668" text-anchor="end" font-weight="bold" stroke="#000" stroke-width="0.12" fill="#000" transform="translate(271.10 209.56) scale(0.9259 1) translate(-271.10 -209.56)">0.020</text>
<line x1="273.00" y1="216.24" x2="275.70" y2="216.24" stroke="#000" stroke-width="1.25" stroke-linecap="butt"/>
<text x="271.10" y="219.10" font-family="Liberation Sans, sans-serif" font-size="7.668" text-anchor="end" font-weight="bold" stroke="#000" stroke-width="0.12" fill="#000" transform="translate(271.10 219.10) scale(0.9259 1) translate(-271.10 -219.10)">0.015</text>
<line x1="273.00" y1="225.78" x2="275.70" y2="225.78" stroke="#000" stroke-width="1.25" stroke-linecap="butt"/>
<text x="271.10" y="228.64" font-family="Liberation Sans, sans-serif" font-size="7.668" text-anchor="end" font-weight="bold" stroke="#000" stroke-width="0.12" fill="#000" transform="translate(271.10 228.64) scale(0.9259 1) translate(-271.10 -228.64)">0.010</text>
<line x1="273.00" y1="235.32" x2="275.70" y2="235.32" stroke="#000" stroke-width="1.25" stroke-linecap="butt"/>
<text x="271.10" y="238.18" font-family="Liberation Sans, sans-serif" font-size="7.668" text-anchor="end" font-weight="bold" stroke="#000" stroke-width="0.12" fill="#000" transform="translate(271.10 238.18) scale(0.9259 1) translate(-271.10 -238.18)">0.005</text>
<line x1="273.00" y1="244.86" x2="275.70" y2="244.86" stroke="#000" stroke-width="1.25" stroke-linecap="butt"/>
<text x="271.10" y="247.72" font-family="Liberation Sans, sans-serif" font-size="7.668" text-anchor="end" font-weight="bold" stroke="#000" stroke-width="0.12" fill="#000" transform="translate(271.10 247.72) scale(0.9259 1) translate(-271.10 -247.72)">0.000</text>
<line x1="275.70" y1="244.90" x2="275.70" y2="248.00" stroke="#000" stroke-width="1.25" stroke-linecap="butt"/>
<text x="275.70" y="255.56" font-family="Liberation Sans, sans-serif" font-size="7.668" text-anchor="middle" font-weight="bold" stroke="#000" stroke-width="0.12" fill="#000" transform="translate(275.70 255.56) scale(0.9259 1) translate(-275.70 -255.56)">0.0</text>
<line x1="297.31" y1="244.90" x2="297.31" y2="248.00" stroke="#000" stroke-width="1.25" stroke-linecap="butt"/>
<text x="297.31" y="255.56" font-family="Liberation Sans, sans-serif" font-size="7.668" text-anchor="middle" font-weight="bold" stroke="#000" stroke-width="0.12" fill="#000" transform="translate(297.31 255.56) scale(0.9259 1) translate(-297.31 -255.56)">2.5</text>
<line x1="318.92" y1="244.90" x2="318.92" y2="248.00" stroke="#000" stroke-width="1.25" stroke-linecap="butt"/>
<text x="318.92" y="255.56" font-family="Liberation Sans, sans-serif" font-size="7.668" text-anchor="middle" font-weight="bold" stroke="#000" stroke-width="0.12" fill="#000" transform="translate(318.92 255.56) scale(0.9259 1) translate(-318.92 -255.56)">5.0</text>
<line x1="340.53" y1="244.90" x2="340.53" y2="248.00" stroke="#000" stroke-width="1.25" stroke-linecap="butt"/>
<text x="340.53" y="255.56" font-family="Liberation Sans, sans-serif" font-size="7.668" text-anchor="middle" font-weight="bold" stroke="#000" stroke-width="0.12" fill="#000" transform="translate(340.53 255.56) scale(0.9259 1) translate(-340.53 -255.56)">7.5</text>
<line x1="362.14" y1="244.90" x2="362.14" y2="248.00" stroke="#000" stroke-width="1.25" stroke-linecap="butt"/>
<text x="362.14" y="255.56" font-family="Liberation Sans, sans-serif" font-size="7.668" text-anchor="middle" font-weight="bold" stroke="#000" stroke-width="0.12" fill="#000" transform="translate(362.14 255.56) scale(0.9259 1) translate(-362.14 -255.56)">10.0</text>
<line x1="383.75" y1="244.90" x2="383.75" y2="248.00" stroke="#000" stroke-width="1.25" stroke-linecap="butt"/>
<text x="383.75" y="255.56" font-family="Liberation Sans, sans-serif" font-size="7.668" text-anchor="middle" font-weight="bold" stroke="#000" stroke-width="0.12" fill="#000" transform="translate(383.75 255.56) scale(0.9259 1) translate(-383.75 -255.56)">12.5</text>
<line x1="405.36" y1="244.90" x2="405.36" y2="248.00" stroke="#000" stroke-width="1.25" stroke-linecap="butt"/>
<text x="405.36" y="255.56" font-family="Liberation Sans, sans-serif" font-size="7.668" text-anchor="middle" font-weight="bold" stroke="#000" stroke-width="0.12" fill="#000" transform="translate(405.36 255.56) scale(0.9259 1) translate(-405.36 -255.56)">15.0</text>
<line x1="275.70" y1="201.90" x2="405.40" y2="201.90" stroke="#000" stroke-width="1.0" stroke-dasharray="1.5 0.8" stroke-linecap="butt"/>
<line x1="275.70" y1="231.40" x2="405.40" y2="231.40" stroke="#000" stroke-width="0.9" stroke-dasharray="1.5 0.8" stroke-linecap="butt"/>
<text x="236.40" y="200.50" font-family="Liberation Sans, sans-serif" font-size="8.35" text-anchor="middle" fill="#000" transform="rotate(-90 236.40 200.50)">Urine phosphorus</text>
<text x="245.20" y="200.60" font-family="Liberation Sans, sans-serif" font-size="8.4" text-anchor="middle" fill="#000" transform="rotate(-90 245.20 200.60)">(g/kg/24hr)</text>
<text x="340.30" y="269.30" font-family="Liberation Sans, sans-serif" font-size="8.15" text-anchor="middle" fill="#000">Years after starting PTH</text>
<path d="M275.50 163.10L277.40 165.00L275.50 166.90L273.60 165.00Z" fill="#000"/>
<path d="M275.00 178.10L276.90 180.00L275.00 181.90L273.10 180.00Z" fill="#000"/>
<path d="M275.50 183.10L277.40 185.00L275.50 186.90L273.60 185.00Z" fill="#000"/>
<path d="M278.50 191.60L280.40 193.50L278.50 195.40L276.60 193.50Z" fill="#000"/>
<path d="M278.00 196.10L279.90 198.00L278.00 199.90L276.10 198.00Z" fill="#000"/>
<path d="M282.30 196.90L284.20 198.80L282.30 200.70L280.40 198.80Z" fill="#000"/>
<path d="M280.50 208.60L282.40 210.50L280.50 212.40L278.60 210.50Z" fill="#000"/>
<path d="M285.00 207.40L286.90 209.30L285.00 211.20L283.10 209.30Z" fill="#000"/>
<path d="M289.30 208.40L291.20 210.30L289.30 212.20L287.40 210.30Z" fill="#000"/>
<path d="M293.80 191.60L295.70 193.50L293.80 195.40L291.90 193.50Z" fill="#000"/>
<path d="M297.50 183.10L299.40 185.00L297.50 186.90L295.60 185.00Z" fill="#000"/>
<path d="M302.50 208.90L304.40 210.80L302.50 212.70L300.60 210.80Z" fill="#000"/>
<path d="M307.00 195.60L308.90 197.50L307.00 199.40L305.10 197.50Z" fill="#000"/>
<path d="M310.80 210.90L312.70 212.80L310.80 214.70L308.90 212.80Z" fill="#000"/>
<path d="M315.50 205.40L317.40 207.30L315.50 209.20L313.60 207.30Z" fill="#000"/>
<path d="M320.30 196.90L322.20 198.80L320.30 200.70L318.40 198.80Z" fill="#000"/>
<path d="M336.30 211.90L338.20 213.80L336.30 215.70L334.40 213.80Z" fill="#000"/>
<path d="M373.30 215.60L375.20 217.50L373.30 219.40L371.40 217.50Z" fill="#000"/>
<path d="M381.30 208.90L383.20 210.80L381.30 212.70L379.40 210.80Z" fill="#000"/>
<path d="M383.50 209.40L385.40 211.30L383.50 213.20L381.60 211.30Z" fill="#000"/>
<path d="M387.50 219.10L389.40 221.00L387.50 222.90L385.60 221.00Z" fill="#000"/>
<path d="M391.80 197.40L393.70 199.30L391.80 201.20L389.90 199.30Z" fill="#000"/>
<path d="M393.50 214.10L395.40 216.00L393.50 217.90L391.60 216.00Z" fill="#000"/>
<path d="M396.00 210.40L397.90 212.30L396.00 214.20L394.10 212.30Z" fill="#000"/>
<path d="M393.50 222.40L395.40 224.30L393.50 226.20L391.60 224.30Z" fill="#000"/>
<path d="M397.30 223.40L399.20 225.30L397.30 227.20L395.40 225.30Z" fill="#000"/>
<line x1="37.00" y1="299.00" x2="37.00" y2="381.70" stroke="#000" stroke-width="1.4" stroke-linecap="butt"/>
<line x1="36.30" y1="381.00" x2="85.80" y2="381.00" stroke="#000" stroke-width="1.4" stroke-linecap="butt"/>
<line x1="91.90" y1="381.00" x2="159.60" y2="381.00" stroke="#000" stroke-width="1.4" stroke-linecap="butt"/>
<line x1="34.30" y1="299.50" x2="37.00" y2="299.50" stroke="#000" stroke-width="1.25" stroke-linecap="butt"/>
<text x="33.10" y="302.23" font-family="Liberation Sans, sans-serif" font-size="7.29" text-anchor="end" font-weight="bold" stroke="#000" stroke-width="0.12" fill="#000" transform="translate(33.10 302.23) scale(0.9259 1) translate(-33.10 -302.23)">1.0</text>
<line x1="34.30" y1="311.14" x2="37.00" y2="311.14" stroke="#000" stroke-width="1.25" stroke-linecap="butt"/>
<text x="33.10" y="313.87" font-family="Liberation Sans, sans-serif" font-size="7.29" text-anchor="end" font-weight="bold" stroke="#000" stroke-width="0.12" fill="#000" transform="translate(33.10 313.87) scale(0.9259 1) translate(-33.10 -313.87)">0.9</text>
<line x1="34.30" y1="322.78" x2="37.00" y2="322.78" stroke="#000" stroke-width="1.25" stroke-linecap="butt"/>
<text x="33.10" y="325.51" font-family="Liberation Sans, sans-serif" font-size="7.29" text-anchor="end" font-weight="bold" stroke="#000" stroke-width="0.12" fill="#000" transform="translate(33.10 325.51) scale(0.9259 1) translate(-33.10 -325.51)">0.8</text>
<line x1="34.30" y1="334.42" x2="37.00" y2="334.42" stroke="#000" stroke-width="1.25" stroke-linecap="butt"/>
<text x="33.10" y="337.15" font-family="Liberation Sans, sans-serif" font-size="7.29" text-anchor="end" font-weight="bold" stroke="#000" stroke-width="0.12" fill="#000" transform="translate(33.10 337.15) scale(0.9259 1) translate(-33.10 -337.15)">0.7</text>
<line x1="34.30" y1="346.06" x2="37.00" y2="346.06" stroke="#000" stroke-width="1.25" stroke-linecap="butt"/>
<text x="33.10" y="348.79" font-family="Liberation Sans, sans-serif" font-size="7.29" text-anchor="end" font-weight="bold" stroke="#000" stroke-width="0.12" fill="#000" transform="translate(33.10 348.79) scale(0.9259 1) translate(-33.10 -348.79)">0.6</text>
<line x1="34.30" y1="357.70" x2="37.00" y2="357.70" stroke="#000" stroke-width="1.25" stroke-linecap="butt"/>
<text x="33.10" y="360.43" font-family="Liberation Sans, sans-serif" font-size="7.29" text-anchor="end" font-weight="bold" stroke="#000" stroke-width="0.12" fill="#000" transform="translate(33.10 360.43) scale(0.9259 1) translate(-33.10 -360.43)">0.5</text>
<line x1="34.30" y1="369.34" x2="37.00" y2="369.34" stroke="#000" stroke-width="1.25" stroke-linecap="butt"/>
<text x="33.10" y="372.07" font-family="Liberation Sans, sans-serif" font-size="7.29" text-anchor="end" font-weight="bold" stroke="#000" stroke-width="0.12" fill="#000" transform="translate(33.10 372.07) scale(0.9259 1) translate(-33.10 -372.07)">0.4</text>
<line x1="34.30" y1="380.98" x2="37.00" y2="380.98" stroke="#000" stroke-width="1.25" stroke-linecap="butt"/>
<text x="33.10" y="383.71" font-family="Liberation Sans, sans-serif" font-size="7.29" text-anchor="end" font-weight="bold" stroke="#000" stroke-width="0.12" fill="#000" transform="translate(33.10 383.71) scale(0.9259 1) translate(-33.10 -383.71)">0.3</text>
<line x1="37.00" y1="381.00" x2="37.00" y2="384.10" stroke="#000" stroke-width="1.25" stroke-linecap="butt"/>
<text x="37.00" y="391.03" font-family="Liberation Sans, sans-serif" font-size="7.29" text-anchor="middle" font-weight="bold" stroke="#000" stroke-width="0.12" fill="#000" transform="translate(37.00 391.03) scale(0.9259 1) translate(-37.00 -391.03)">0</text>
<line x1="53.30" y1="381.00" x2="53.30" y2="384.10" stroke="#000" stroke-width="1.25" stroke-linecap="butt"/>
<text x="53.30" y="391.03" font-family="Liberation Sans, sans-serif" font-size="7.29" text-anchor="middle" font-weight="bold" stroke="#000" stroke-width="0.12" fill="#000" transform="translate(53.30 391.03) scale(0.9259 1) translate(-53.30 -391.03)">1</text>
<line x1="69.50" y1="381.00" x2="69.50" y2="384.10" stroke="#000" stroke-width="1.25" stroke-linecap="butt"/>
<text x="69.50" y="391.03" font-family="Liberation Sans, sans-serif" font-size="7.29" text-anchor="middle" font-weight="bold" stroke="#000" stroke-width="0.12" fill="#000" transform="translate(69.50 391.03) scale(0.9259 1) translate(-69.50 -391.03)">2</text>
<line x1="85.70" y1="381.00" x2="85.70" y2="384.10" stroke="#000" stroke-width="1.25" stroke-linecap="butt"/>
<text x="85.70" y="391.03" font-family="Liberation Sans, sans-serif" font-size="7.29" text-anchor="middle" font-weight="bold" stroke="#000" stroke-width="0.12" fill="#000" transform="translate(85.70 391.03) scale(0.9259 1) translate(-85.70 -391.03)">3</text>
<line x1="85.80" y1="379.40" x2="85.80" y2="384.00" stroke="#000" stroke-width="1.25" stroke-linecap="butt"/>
<line x1="91.90" y1="379.40" x2="91.90" y2="384.00" stroke="#000" stroke-width="1.25" stroke-linecap="butt"/>
<line x1="92.00" y1="381.00" x2="92.00" y2="384.00" stroke="#000" stroke-width="1.25" stroke-linecap="butt"/>
<text x="92.00" y="391.03" font-family="Liberation Sans, sans-serif" font-size="7.29" text-anchor="middle" font-weight="bold" stroke="#000" stroke-width="0.12" fill="#000" transform="translate(92.00 391.03) scale(0.9259 1) translate(-92.00 -391.03)">3</text>
<line x1="114.50" y1="381.00" x2="114.50" y2="384.00" stroke="#000" stroke-width="1.25" stroke-linecap="butt"/>
<text x="114.50" y="391.03" font-family="Liberation Sans, sans-serif" font-size="7.29" text-anchor="middle" font-weight="bold" stroke="#000" stroke-width="0.12" fill="#000" transform="translate(114.50 391.03) scale(0.9259 1) translate(-114.50 -391.03)">7</text>
<line x1="137.00" y1="381.00" x2="137.00" y2="384.00" stroke="#000" stroke-width="1.25" stroke-linecap="butt"/>
<text x="137.00" y="391.03" font-family="Liberation Sans, sans-serif" font-size="7.29" text-anchor="middle" font-weight="bold" stroke="#000" stroke-width="0.12" fill="#000" transform="translate(137.00 391.03) scale(0.9259 1) translate(-137.00 -391.03)">11</text>
<line x1="159.50" y1="381.00" x2="159.50" y2="384.00" stroke="#000" stroke-width="1.25" stroke-linecap="butt"/>
<text x="159.50" y="391.03" font-family="Liberation Sans, sans-serif" font-size="7.29" text-anchor="middle" font-weight="bold" stroke="#000" stroke-width="0.12" fill="#000" transform="translate(159.50 391.03) scale(0.9259 1) translate(-159.50 -391.03)">15</text>
<line x1="37.00" y1="306.10" x2="157.30" y2="306.10" stroke="#000" stroke-width="0.9" stroke-dasharray="1.5 0.8" stroke-linecap="butt"/>
<line x1="37.00" y1="340.40" x2="157.30" y2="340.40" stroke="#000" stroke-width="0.9" stroke-dasharray="1.5 0.8" stroke-linecap="butt"/>
<text x="6.80" y="340.20" font-family="Liberation Sans, sans-serif" font-size="7.8" text-anchor="middle" fill="#000" transform="rotate(-90 6.80 340.20)">Serum magnesium</text>
<text x="15.80" y="340.30" font-family="Liberation Sans, sans-serif" font-size="7.8" text-anchor="middle" fill="#000" transform="rotate(-90 15.80 340.30)">(mmol/l)</text>
<text x="98.00" y="404.90" font-family="Liberation Sans, sans-serif" font-size="7.71" text-anchor="middle" fill="#000">Years after starting PTH</text>
<path d="M37.20 344.60L39.10 346.50L37.20 348.40L35.30 346.50Z" fill="#000"/>
<path d="M37.20 356.50L39.10 358.40L37.20 360.30L35.30 358.40Z" fill="#000"/>
<path d="M42.30 350.10L44.20 352.00L42.30 353.90L40.40 352.00Z" fill="#000"/>
<path d="M46.80 352.40L48.70 354.30L46.80 356.20L44.90 354.30Z" fill="#000"/>
<path d="M55.30 345.40L57.20 347.30L55.30 349.20L53.40 347.30Z" fill="#000"/>
<path d="M63.50 354.60L65.40 356.50L63.50 358.40L61.60 356.50Z" fill="#000"/>
<path d="M71.80 345.40L73.70 347.30L71.80 349.20L69.90 347.30Z" fill="#000"/>
<path d="M79.00 337.40L80.90 339.30L79.00 341.20L77.10 339.30Z" fill="#000"/>
<path d="M84.30 354.60L86.20 356.50L84.30 358.40L82.40 356.50Z" fill="#000"/>
<path d="M92.50 344.40L94.40 346.30L92.50 348.20L90.60 346.30Z" fill="#000"/>
<path d="M95.50 339.60L97.40 341.50L95.50 343.40L93.60 341.50Z" fill="#000"/>
<path d="M97.50 338.60L99.40 340.50L97.50 342.40L95.60 340.50Z" fill="#000"/>
<path d="M100.80 345.40L102.70 347.30L100.80 349.20L98.90 347.30Z" fill="#000"/>
<path d="M103.60 335.10L105.50 337.00L103.60 338.90L101.70 337.00Z" fill="#000"/>
<path d="M114.50 343.40L116.40 345.30L114.50 347.20L112.60 345.30Z" fill="#000"/>
<path d="M138.50 356.10L140.40 358.00L138.50 359.90L136.60 358.00Z" fill="#000"/>
<path d="M145.30 345.60L147.20 347.50L145.30 349.40L143.40 347.50Z" fill="#000"/>
<path d="M147.80 349.10L149.70 351.00L147.80 352.90L145.90 351.00Z" fill="#000"/>
<path d="M151.50 356.10L153.40 358.00L151.50 359.90L149.60 358.00Z" fill="#000"/>
<path d="M153.50 361.60L155.40 363.50L153.50 365.40L151.60 363.50Z" fill="#000"/>
<path d="M150.50 367.60L152.40 369.50L150.50 371.40L148.60 369.50Z" fill="#000"/>
<path d="M154.30 367.60L156.20 369.50L154.30 371.40L152.40 369.50Z" fill="#000"/>
<line x1="276.20" y1="293.50" x2="276.20" y2="382.00" stroke="#000" stroke-width="1.4" stroke-linecap="butt"/>
<line x1="275.50" y1="381.30" x2="407.90" y2="381.30" stroke="#000" stroke-width="1.4" stroke-linecap="butt"/>
<line x1="273.50" y1="294.00" x2="276.20" y2="294.00" stroke="#000" stroke-width="1.25" stroke-linecap="butt"/>
<text x="271.60" y="296.95" font-family="Liberation Sans, sans-serif" font-size="7.938" text-anchor="end" font-weight="bold" stroke="#000" stroke-width="0.12" fill="#000" transform="translate(271.60 296.95) scale(0.9259 1) translate(-271.60 -296.95)">0.3</text>
<line x1="273.50" y1="323.00" x2="276.20" y2="323.00" stroke="#000" stroke-width="1.25" stroke-linecap="butt"/>
<text x="271.60" y="325.95" font-family="Liberation Sans, sans-serif" font-size="7.938" text-anchor="end" font-weight="bold" stroke="#000" stroke-width="0.12" fill="#000" transform="translate(271.60 325.95) scale(0.9259 1) translate(-271.60 -325.95)">0.2</text>
<line x1="273.50" y1="352.00" x2="276.20" y2="352.00" stroke="#000" stroke-width="1.25" stroke-linecap="butt"/>
<text x="271.60" y="354.95" font-family="Liberation Sans, sans-serif" font-size="7.938" text-anchor="end" font-weight="bold" stroke="#000" stroke-width="0.12" fill="#000" transform="translate(271.60 354.95) scale(0.9259 1) translate(-271.60 -354.95)">0.1</text>
<line x1="273.50" y1="381.00" x2="276.20" y2="381.00" stroke="#000" stroke-width="1.25" stroke-linecap="butt"/>
<text x="271.60" y="383.95" font-family="Liberation Sans, sans-serif" font-size="7.938" text-anchor="end" font-weight="bold" stroke="#000" stroke-width="0.12" fill="#000" transform="translate(271.60 383.95) scale(0.9259 1) translate(-271.60 -383.95)">0.0</text>
<line x1="276.20" y1="381.30" x2="276.20" y2="384.40" stroke="#000" stroke-width="1.25" stroke-linecap="butt"/>
<text x="276.20" y="392.45" font-family="Liberation Sans, sans-serif" font-size="7.938" text-anchor="middle" font-weight="bold" stroke="#000" stroke-width="0.12" fill="#000" transform="translate(276.20 392.45) scale(0.9259 1) translate(-276.20 -392.45)">0.0</text>
<line x1="298.07" y1="381.30" x2="298.07" y2="384.40" stroke="#000" stroke-width="1.25" stroke-linecap="butt"/>
<text x="298.07" y="392.45" font-family="Liberation Sans, sans-serif" font-size="7.938" text-anchor="middle" font-weight="bold" stroke="#000" stroke-width="0.12" fill="#000" transform="translate(298.07 392.45) scale(0.9259 1) translate(-298.07 -392.45)">2.5</text>
<line x1="319.94" y1="381.30" x2="319.94" y2="384.40" stroke="#000" stroke-width="1.25" stroke-linecap="butt"/>
<text x="319.94" y="392.45" font-family="Liberation Sans, sans-serif" font-size="7.938" text-anchor="middle" font-weight="bold" stroke="#000" stroke-width="0.12" fill="#000" transform="translate(319.94 392.45) scale(0.9259 1) translate(-319.94 -392.45)">5.0</text>
<line x1="341.81" y1="381.30" x2="341.81" y2="384.40" stroke="#000" stroke-width="1.25" stroke-linecap="butt"/>
<text x="341.81" y="392.45" font-family="Liberation Sans, sans-serif" font-size="7.938" text-anchor="middle" font-weight="bold" stroke="#000" stroke-width="0.12" fill="#000" transform="translate(341.81 392.45) scale(0.9259 1) translate(-341.81 -392.45)">7.5</text>
<line x1="363.68" y1="381.30" x2="363.68" y2="384.40" stroke="#000" stroke-width="1.25" stroke-linecap="butt"/>
<text x="363.68" y="392.45" font-family="Liberation Sans, sans-serif" font-size="7.938" text-anchor="middle" font-weight="bold" stroke="#000" stroke-width="0.12" fill="#000" transform="translate(363.68 392.45) scale(0.9259 1) translate(-363.68 -392.45)">10.0</text>
<line x1="385.55" y1="381.30" x2="385.55" y2="384.40" stroke="#000" stroke-width="1.25" stroke-linecap="butt"/>
<text x="385.55" y="392.45" font-family="Liberation Sans, sans-serif" font-size="7.938" text-anchor="middle" font-weight="bold" stroke="#000" stroke-width="0.12" fill="#000" transform="translate(385.55 392.45) scale(0.9259 1) translate(-385.55 -392.45)">12.5</text>
<line x1="407.42" y1="381.30" x2="407.42" y2="384.40" stroke="#000" stroke-width="1.25" stroke-linecap="butt"/>
<text x="407.42" y="392.45" font-family="Liberation Sans, sans-serif" font-size="7.938" text-anchor="middle" font-weight="bold" stroke="#000" stroke-width="0.12" fill="#000" transform="translate(407.42 392.45) scale(0.9259 1) translate(-407.42 -392.45)">15.0</text>
<line x1="276.20" y1="360.00" x2="406.50" y2="360.00" stroke="#000" stroke-width="1.0" stroke-dasharray="1.5 0.8" stroke-linecap="butt"/>
<text x="242.70" y="337.20" font-family="Liberation Sans, sans-serif" font-size="8.2" text-anchor="middle" fill="#000" transform="rotate(-90 242.70 337.20)">Urine magnesium</text>
<text x="253.30" y="337.40" font-family="Liberation Sans, sans-serif" font-size="8.33" text-anchor="middle" fill="#000" transform="rotate(-90 253.30 337.40)">(mmol/kg/24hr)</text>
<text x="342.20" y="405.90" font-family="Liberation Sans, sans-serif" font-size="8.33" text-anchor="middle" fill="#000">Years after starting PTH</text>
<path d="M278.80 299.60L280.70 301.50L278.80 303.40L276.90 301.50Z" fill="#000"/>
<path d="M276.00 306.40L277.90 308.30L276.00 310.20L274.10 308.30Z" fill="#000"/>
<path d="M278.80 308.40L280.70 310.30L278.80 312.20L276.90 310.30Z" fill="#000"/>
<path d="M280.80 309.60L282.70 311.50L280.80 313.40L278.90 311.50Z" fill="#000"/>
<path d="M283.00 310.90L284.90 312.80L283.00 314.70L281.10 312.80Z" fill="#000"/>
<path d="M286.00 312.60L287.90 314.50L286.00 316.40L284.10 314.50Z" fill="#000"/>
<path d="M276.30 314.60L278.20 316.50L276.30 318.40L274.40 316.50Z" fill="#000"/>
<path d="M276.30 318.90L278.20 320.80L276.30 322.70L274.40 320.80Z" fill="#000"/>
<path d="M290.00 331.40L291.90 333.30L290.00 335.20L288.10 333.30Z" fill="#000"/>
<path d="M294.50 337.90L296.40 339.80L294.50 341.70L292.60 339.80Z" fill="#000"/>
<path d="M298.30 336.60L300.20 338.50L298.30 340.40L296.40 338.50Z" fill="#000"/>
<path d="M303.30 348.10L305.20 350.00L303.30 351.90L301.40 350.00Z" fill="#000"/>
<path d="M308.30 341.40L310.20 343.30L308.30 345.20L306.40 343.30Z" fill="#000"/>
<path d="M311.60 339.00L313.50 340.90L311.60 342.80L309.70 340.90Z" fill="#000"/>
<path d="M316.50 337.10L318.40 339.00L316.50 340.90L314.60 339.00Z" fill="#000"/>
<path d="M321.30 339.10L323.20 341.00L321.30 342.90L319.40 341.00Z" fill="#000"/>
<path d="M337.30 343.40L339.20 345.30L337.30 347.20L335.40 345.30Z" fill="#000"/>
<path d="M361.30 338.60L363.20 340.50L361.30 342.40L359.40 340.50Z" fill="#000"/>
<path d="M362.00 329.40L363.90 331.30L362.00 333.20L360.10 331.30Z" fill="#000"/>
<path d="M364.80 332.10L366.70 334.00L364.80 335.90L362.90 334.00Z" fill="#000"/>
<path d="M368.50 330.40L370.40 332.30L368.50 334.20L366.60 332.30Z" fill="#000"/>
<path d="M370.50 326.10L372.40 328.00L370.50 329.90L368.60 328.00Z" fill="#000"/>
<path d="M375.00 328.60L376.90 330.50L375.00 332.40L373.10 330.50Z" fill="#000"/>
<path d="M383.00 336.60L384.90 338.50L383.00 340.40L381.10 338.50Z" fill="#000"/>
<path d="M385.30 338.60L387.20 340.50L385.30 342.40L383.40 340.50Z" fill="#000"/>
<path d="M393.50 339.90L395.40 341.80L393.50 343.70L391.60 341.80Z" fill="#000"/>
<path d="M389.00 349.10L390.90 351.00L389.00 352.90L387.10 351.00Z" fill="#000"/>
<path d="M395.00 345.90L396.90 347.80L395.00 349.70L393.10 347.80Z" fill="#000"/>
<path d="M395.50 347.90L397.40 349.80L395.50 351.70L393.60 349.80Z" fill="#000"/>
<path d="M398.00 343.40L399.90 345.30L398.00 347.20L396.10 345.30Z" fill="#000"/>
<path d="M398.00 350.10L399.90 352.00L398.00 353.90L396.10 352.00Z" fill="#000"/>
<path d="M399.00 365.40L400.90 367.30L399.00 369.20L397.10 367.30Z" fill="#000"/>
<line x1="37.30" y1="435.00" x2="37.30" y2="520.55" stroke="#000" stroke-width="1.4" stroke-linecap="butt"/>
<line x1="36.60" y1="519.85" x2="165.30" y2="519.85" stroke="#000" stroke-width="1.4" stroke-linecap="butt"/>
<line x1="34.60" y1="435.50" x2="37.30" y2="435.50" stroke="#000" stroke-width="1.25" stroke-linecap="butt"/>
<text x="33.60" y="438.18" font-family="Liberation Sans, sans-serif" font-size="7.128" text-anchor="end" font-weight="bold" stroke="#000" stroke-width="0.12" fill="#000" transform="translate(33.60 438.18) scale(0.9259 1) translate(-33.60 -438.18)">175</text>
<line x1="34.60" y1="447.55" x2="37.30" y2="447.55" stroke="#000" stroke-width="1.25" stroke-linecap="butt"/>
<text x="33.60" y="450.23" font-family="Liberation Sans, sans-serif" font-size="7.128" text-anchor="end" font-weight="bold" stroke="#000" stroke-width="0.12" fill="#000" transform="translate(33.60 450.23) scale(0.9259 1) translate(-33.60 -450.23)">150</text>
<line x1="34.60" y1="459.60" x2="37.30" y2="459.60" stroke="#000" stroke-width="1.25" stroke-linecap="butt"/>
<text x="33.60" y="462.28" font-family="Liberation Sans, sans-serif" font-size="7.128" text-anchor="end" font-weight="bold" stroke="#000" stroke-width="0.12" fill="#000" transform="translate(33.60 462.28) scale(0.9259 1) translate(-33.60 -462.28)">125</text>
<line x1="34.60" y1="471.65" x2="37.30" y2="471.65" stroke="#000" stroke-width="1.25" stroke-linecap="butt"/>
<text x="33.60" y="474.33" font-family="Liberation Sans, sans-serif" font-size="7.128" text-anchor="end" font-weight="bold" stroke="#000" stroke-width="0.12" fill="#000" transform="translate(33.60 474.33) scale(0.9259 1) translate(-33.60 -474.33)">100</text>
<line x1="34.60" y1="483.70" x2="37.30" y2="483.70" stroke="#000" stroke-width="1.25" stroke-linecap="butt"/>
<text x="33.60" y="486.38" font-family="Liberation Sans, sans-serif" font-size="7.128" text-anchor="end" font-weight="bold" stroke="#000" stroke-width="0.12" fill="#000" transform="translate(33.60 486.38) scale(0.9259 1) translate(-33.60 -486.38)">75</text>
<line x1="34.60" y1="495.75" x2="37.30" y2="495.75" stroke="#000" stroke-width="1.25" stroke-linecap="butt"/>
<text x="33.60" y="498.43" font-family="Liberation Sans, sans-serif" font-size="7.128" text-anchor="end" font-weight="bold" stroke="#000" stroke-width="0.12" fill="#000" transform="translate(33.60 498.43) scale(0.9259 1) translate(-33.60 -498.43)">50</text>
<line x1="34.60" y1="507.80" x2="37.30" y2="507.80" stroke="#000" stroke-width="1.25" stroke-linecap="butt"/>
<text x="33.60" y="510.48" font-family="Liberation Sans, sans-serif" font-size="7.128" text-anchor="end" font-weight="bold" stroke="#000" stroke-width="0.12" fill="#000" transform="translate(33.60 510.48) scale(0.9259 1) translate(-33.60 -510.48)">25</text>
<line x1="34.60" y1="519.85" x2="37.30" y2="519.85" stroke="#000" stroke-width="1.25" stroke-linecap="butt"/>
<text x="33.60" y="522.53" font-family="Liberation Sans, sans-serif" font-size="7.128" text-anchor="end" font-weight="bold" stroke="#000" stroke-width="0.12" fill="#000" transform="translate(33.60 522.53) scale(0.9259 1) translate(-33.60 -522.53)">0</text>
<line x1="37.30" y1="519.85" x2="37.30" y2="522.95" stroke="#000" stroke-width="1.25" stroke-linecap="butt"/>
<text x="37.30" y="530.08" font-family="Liberation Sans, sans-serif" font-size="7.128" text-anchor="middle" font-weight="bold" stroke="#000" stroke-width="0.12" fill="#000" transform="translate(37.30 530.08) scale(0.9259 1) translate(-37.30 -530.08)">0</text>
<line x1="62.80" y1="519.85" x2="62.80" y2="522.95" stroke="#000" stroke-width="1.25" stroke-linecap="butt"/>
<text x="62.80" y="530.08" font-family="Liberation Sans, sans-serif" font-size="7.128" text-anchor="middle" font-weight="bold" stroke="#000" stroke-width="0.12" fill="#000" transform="translate(62.80 530.08) scale(0.9259 1) translate(-62.80 -530.08)">3</text>
<line x1="88.30" y1="519.85" x2="88.30" y2="522.95" stroke="#000" stroke-width="1.25" stroke-linecap="butt"/>
<text x="88.30" y="530.08" font-family="Liberation Sans, sans-serif" font-size="7.128" text-anchor="middle" font-weight="bold" stroke="#000" stroke-width="0.12" fill="#000" transform="translate(88.30 530.08) scale(0.9259 1) translate(-88.30 -530.08)">6</text>
<line x1="113.80" y1="519.85" x2="113.80" y2="522.95" stroke="#000" stroke-width="1.25" stroke-linecap="butt"/>
<text x="113.80" y="530.08" font-family="Liberation Sans, sans-serif" font-size="7.128" text-anchor="middle" font-weight="bold" stroke="#000" stroke-width="0.12" fill="#000" transform="translate(113.80 530.08) scale(0.9259 1) translate(-113.80 -530.08)">9</text>
<line x1="139.30" y1="519.85" x2="139.30" y2="522.95" stroke="#000" stroke-width="1.25" stroke-linecap="butt"/>
<text x="139.30" y="530.08" font-family="Liberation Sans, sans-serif" font-size="7.128" text-anchor="middle" font-weight="bold" stroke="#000" stroke-width="0.12" fill="#000" transform="translate(139.30 530.08) scale(0.9259 1) translate(-139.30 -530.08)">12</text>
<line x1="164.80" y1="519.85" x2="164.80" y2="522.95" stroke="#000" stroke-width="1.25" stroke-linecap="butt"/>
<text x="164.80" y="530.08" font-family="Liberation Sans, sans-serif" font-size="7.128" text-anchor="middle" font-weight="bold" stroke="#000" stroke-width="0.12" fill="#000" transform="translate(164.80 530.08) scale(0.9259 1) translate(-164.80 -530.08)">15</text>
<text x="6.60" y="476.30" font-family="Liberation Sans, sans-serif" font-size="8.0" text-anchor="middle" fill="#000" transform="rotate(-90 6.60 476.30)">Creatinine clearance</text>
<text x="16.20" y="476.50" font-family="Liberation Sans, sans-serif" font-size="8.15" text-anchor="middle" fill="#000" transform="rotate(-90 16.20 476.50)">ml/min/1.73 m2</text>
<text x="100.80" y="544.20" font-family="Liberation Sans, sans-serif" font-size="8.06" text-anchor="middle" fill="#000">Years after starting PTH</text>
<path d="M40.00 473.15L41.65 474.80L40.00 476.45L38.35 474.80Z" fill="#909090"/>
<path d="M39.30 478.95L40.95 480.60L39.30 482.25L37.65 480.60Z" fill="#909090"/>
<path d="M42.30 477.65L43.95 479.30L42.30 480.95L40.65 479.30Z" fill="#909090"/>
<path d="M46.80 481.65L48.45 483.30L46.80 484.95L45.15 483.30Z" fill="#909090"/>
<path d="M51.00 461.65L52.65 463.30L51.00 464.95L49.35 463.30Z" fill="#909090"/>
<path d="M59.00 479.45L60.65 481.10L59.00 482.75L57.35 481.10Z" fill="#909090"/>
<path d="M64.00 467.15L65.65 468.80L64.00 470.45L62.35 468.80Z" fill="#909090"/>
<path d="M71.80 456.15L73.45 457.80L71.80 459.45L70.15 457.80Z" fill="#909090"/>
<path d="M76.30 454.65L77.95 456.30L76.30 457.95L74.65 456.30Z" fill="#909090"/>
<path d="M81.30 440.45L82.95 442.10L81.30 443.75L79.65 442.10Z" fill="#909090"/>
<path d="M96.70 448.25L98.35 449.90L96.70 451.55L95.05 449.90Z" fill="#909090"/>
<path d="M133.30 458.65L134.95 460.30L133.30 461.95L131.65 460.30Z" fill="#909090"/>
<path d="M143.00 456.15L144.65 457.80L143.00 459.45L141.35 457.80Z" fill="#909090"/>
<path d="M147.00 454.95L148.65 456.60L147.00 458.25L145.35 456.60Z" fill="#909090"/>
<path d="M153.00 444.15L154.65 445.80L153.00 447.45L151.35 445.80Z" fill="#909090"/>
<path d="M155.50 443.65L157.15 445.30L155.50 446.95L153.85 445.30Z" fill="#909090"/>
<path d="M37.30 473.90L39.20 475.80L37.30 477.70L35.40 475.80Z" fill="#000"/>
<path d="M37.30 484.90L39.20 486.80L37.30 488.70L35.40 486.80Z" fill="#000"/>
<path d="M37.30 490.60L39.20 492.50L37.30 494.40L35.40 492.50Z" fill="#000"/>
<path d="M39.50 486.90L41.40 488.80L39.50 490.70L37.60 488.80Z" fill="#000"/>
<path d="M42.50 486.90L44.40 488.80L42.50 490.70L40.60 488.80Z" fill="#000"/>
<path d="M46.80 489.60L48.70 491.50L46.80 493.40L44.90 491.50Z" fill="#000"/>
<path d="M51.00 477.90L52.90 479.80L51.00 481.70L49.10 479.80Z" fill="#000"/>
<path d="M55.30 485.90L57.20 487.80L55.30 489.70L53.40 487.80Z" fill="#000"/>
<path d="M59.00 483.60L60.90 485.50L59.00 487.40L57.10 485.50Z" fill="#000"/>
<path d="M64.00 475.40L65.90 477.30L64.00 479.20L62.10 477.30Z" fill="#000"/>
<path d="M68.30 461.90L70.20 463.80L68.30 465.70L66.40 463.80Z" fill="#000"/>
<path d="M71.80 464.10L73.70 466.00L71.80 467.90L69.90 466.00Z" fill="#000"/>
<path d="M76.30 468.40L78.20 470.30L76.30 472.20L74.40 470.30Z" fill="#000"/>
<path d="M81.30 452.60L83.20 454.50L81.30 456.40L79.40 454.50Z" fill="#000"/>
<path d="M96.30 446.10L98.20 448.00L96.30 449.90L94.40 448.00Z" fill="#000"/>
<path d="M147.00 452.40L148.90 454.30L147.00 456.20L145.10 454.30Z" fill="#000"/>
<path d="M153.00 441.10L154.90 443.00L153.00 444.90L151.10 443.00Z" fill="#000"/>
</g>
</svg>
</body></html>
